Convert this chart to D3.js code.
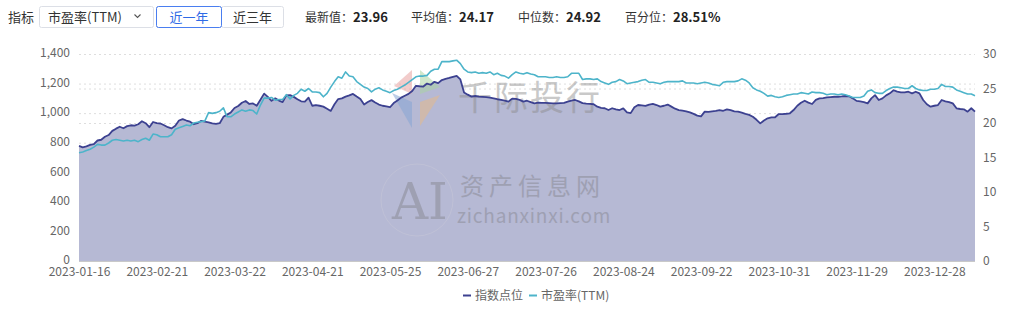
<!DOCTYPE html>
<html><head><meta charset="utf-8">
<script src="https://cdn.jsdelivr.net/npm/d3@7"></script>
<style>
body{margin:0;background:#fff;}
svg{display:block;font-family:"Noto Sans CJK SC","Noto Sans",sans-serif;}
</style></head><body>
<svg id="c" width="1024" height="312"></svg>
<script>
// ---- data ----
const indexValues = [
778,769,775,785,791,815,820,840,852,880,
895,908,898,912,918,916,925,945,932,905,
940,932,930,918,905,897,915,950,960,950,
942,925,932,948,942,938,931,928,932,975,
990,1005,1035,1048,1070,1082,1062,1066,1050,1090,
1132,1110,1083,1100,1085,1075,1120,1122,1110,1094,
1080,1078,1105,1050,1055,1050,1044,1030,1015,1060,
1095,1100,1112,1120,1130,1112,1095,1058,1075,1088,
1072,1058,1050,1046,1040,1068,1085,1105,1118,1130,
1150,1185,1182,1180,1200,1192,1212,1203,1224,1232,
1238,1246,1252,1228,1140,1125,1112,1116,1112,1110,
1108,1105,1100,1094,1090,1085,1078,1098,1096,1090,
1078,1084,1075,1066,1071,1070,1070,1068,1066,1066,
1068,1070,1078,1085,1089,1080,1068,1064,1062,1060,
1044,1035,1033,1021,1033,1025,1021,1032,1005,1000,
1040,1055,1052,1049,1058,1062,1055,1044,1050,1058,
1044,1030,1021,1017,1012,1005,995,983,978,1010,
1008,1012,1015,1021,1016,1026,1020,1012,1010,1003,
995,988,976,955,931,950,965,972,972,994,
994,996,999,1021,1050,1070,1084,1071,1062,1090,
1100,1102,1107,1109,1111,1111,1113,1116,1114,1100,
1083,1080,1075,1066,1100,1122,1089,1100,1120,1134,
1155,1145,1141,1140,1145,1134,1145,1134,1089,1060,
1044,1050,1055,1089,1080,1075,1066,1033,1028,1026,
1010,1033,1010
];
const peValues = [
15.7,15.8,16.0,16.2,16.5,16.9,16.8,16.8,17.1,17.5,
17.6,17.5,17.4,17.5,17.4,17.5,17.3,17.6,17.8,17.5,
18.4,18.3,18.0,18.0,18.0,18.3,19.1,19.3,19.5,19.7,
19.6,20.0,20.1,20.2,20.3,21.5,21.4,21.5,21.7,22.2,
20.9,20.9,21.3,21.6,21.9,21.7,21.9,21.8,21.3,22.6,
23.6,23.6,23.7,23.3,23.4,23.4,24.1,23.5,24.0,24.3,
24.9,24.6,25.0,24.5,24.5,24.4,23.8,24.3,25.2,26.0,
26.7,26.5,27.4,26.8,26.7,26.0,25.6,25.2,25.0,24.5,
24.9,25.1,24.8,24.6,24.4,24.7,24.9,25.2,25.5,25.9,
26.3,26.7,26.8,26.8,26.9,27.5,27.8,27.8,28.9,28.9,
28.9,29.0,29.1,28.6,27.8,27.4,27.3,27.4,27.2,27.3,
27.2,27.4,27.0,27.2,26.9,26.8,26.5,27.0,27.4,27.2,
27.1,27.3,27.1,27.0,26.7,26.7,26.7,26.6,26.6,26.7,
26.6,26.6,26.7,27.2,27.2,27.2,26.3,26.4,26.4,26.3,
26.4,26.0,25.8,25.6,25.9,26.0,26.3,26.1,25.7,25.8,
25.9,26.0,26.2,26.3,25.9,25.9,25.8,25.7,25.9,26.0,
26.0,26.0,26.0,26.1,25.8,25.8,25.8,25.7,25.8,25.9,
25.8,25.6,25.5,25.4,25.9,26.0,26.0,26.0,26.1,26.4,
26.2,25.8,25.1,24.8,24.6,24.3,23.9,24.0,23.8,23.7,
23.8,24.0,24.1,24.2,24.2,24.4,24.3,24.2,24.5,24.4,
24.4,24.3,24.1,24.2,24.2,24.1,24.2,24.1,23.9,23.7,
23.7,23.7,23.9,24.6,24.8,24.4,24.3,24.3,24.7,25.0,
25.2,25.2,25.1,25.0,25.0,25.4,25.0,24.8,24.7,24.7,
24.9,24.9,25.0,25.6,25.3,25.3,25.2,24.8,24.6,24.4,
24.2,24.2,23.96
];
const leftTicks = [0,200,400,600,800,1000,1200,1400];
const rightTicks = [0,5,10,15,20,25,30];
const marketHolidays = ["2023-01-23","2023-01-24","2023-01-25","2023-01-26","2023-01-27",
  "2023-04-05","2023-05-01","2023-05-02","2023-05-03","2023-06-22","2023-06-23",
  "2023-09-29","2023-10-02","2023-10-03","2023-10-04","2023-10-05","2023-10-06","2024-01-01"];
const statLabels = ["最新值：","平均值：","中位数：","百分位："];
const statValues = ["23.96","24.17","24.92","28.51%"];
const seriesNames = ["指数点位","市盈率(TTM)"];
const rangeButtons = ["近一年","近三年"];

function tradingDays(start, end, hol){
  const out=[]; const h=new Set(hol);
  let d=new Date(start+"T00:00:00Z"); const e=new Date(end+"T00:00:00Z");
  while(d<=e){
    const s=d.toISOString().slice(0,10); const wd=d.getUTCDay();
    if(wd!==0 && wd!==6 && !h.has(s)) out.push(s);
    d=new Date(d.getTime()+86400000);
  }
  return out;
}
const dates = tradingDays("2023-01-16","2024-01-15",marketHolidays);

// ---- chart ----
const svg = d3.select("#c");
const X0=79, X1=975, YB=261, YT=54;
const x = d3.scalePoint().domain(dates).range([X0,X1]);
const yL = d3.scaleLinear().domain([0,1400]).range([YB,YT]);
const yR = d3.scaleLinear().domain([0,30]).range([YB,YT]);
const darkC="#3c4190", fillC="#b6b9d4", cyanC="#4db4ca";

// gridlines
const gL = svg.append("g").attr("transform",`translate(${X0},0)`)
  .call(d3.axisLeft(yL).tickValues(leftTicks.slice(1)).tickSize(-(X1-X0)).tickFormat(""));
const gR = svg.append("g").attr("transform",`translate(${X0},0)`)
  .call(d3.axisLeft(yR).tickValues(rightTicks.slice(1)).tickSize(-(X1-X0)).tickFormat(""));
[gL,gR].forEach(g=>{g.select(".domain").remove();
  g.selectAll("line").attr("stroke","#dedede").attr("stroke-dasharray","2,3");});

// area + lines
const pts = dates.map((d,i)=>({d, v:indexValues[i], p:peValues[i]}));
svg.append("path").datum(pts)
  .attr("d", d3.area().x(o=>x(o.d)).y0(yL(0)).y1(o=>yL(o.v)))
  .attr("fill",fillC);

// watermark
const wm = svg.append("g");
const cx=416, cy=99;
const petals = [
  {c:"#e8a3a0", pts:[[cx-4,cy-5],[cx-22,cy-13],[cx-4,cy-29]]},
  {c:"#a9d3a3", pts:[[cx+4,cy-5],[cx+4,cy-29],[cx+24,cy-12]]},
  {c:"#86a6d4", pts:[[cx-4,cy+3],[cx-24,cy-6],[cx-4,cy+29]]},
  {c:"#e3b98a", pts:[[cx+4,cy+3],[cx+24,cy-4],[cx+4,cy+27]]}
];
petals.forEach(p=>wm.append("polygon").attr("points",p.pts.map(q=>q.join(",")).join(" "))
  .attr("fill",p.c).attr("opacity",0.55));
wm.append("text").attr("x",458).attr("y",110).attr("font-size",34).attr("fill","#8a8a8a")
  .attr("opacity",0.45).attr("letter-spacing",2).text("千际投行");
wm.append("circle").attr("cx",417).attr("cy",200).attr("r",36).attr("fill","none")
  .attr("stroke","#c8c8d8").attr("opacity",0.5);
wm.append("text").attr("x",392).attr("y",219).attr("font-size",50)
  .attr("font-family","'DejaVu Serif','Liberation Serif',serif").attr("fill","#8c8c98")
  .attr("opacity",0.55).text("AI");
wm.append("text").attr("x",460).attr("y",195).attr("font-size",24).attr("fill","#8c8c98")
  .attr("opacity",0.55).attr("letter-spacing",5).text("资产信息网");
wm.append("text").attr("x",457).attr("y",223).attr("font-size",19).attr("fill","#8c8c98")
  .attr("opacity",0.55).attr("letter-spacing",0.8).text("zichanxinxi.com");

svg.append("path").datum(pts)
  .attr("d", d3.line().x(o=>x(o.d)).y(o=>yL(o.v)))
  .attr("fill","none").attr("stroke",darkC).attr("stroke-width",1.8).attr("stroke-linejoin","round");
svg.append("path").datum(pts)
  .attr("d", d3.line().x(o=>x(o.d)).y(o=>yR(o.p)))
  .attr("fill","none").attr("stroke",cyanC).attr("stroke-width",1.6).attr("stroke-linejoin","round");

// axes
const axL = svg.append("g").attr("transform",`translate(${X0-9},-1)`)
  .call(d3.axisLeft(yL).tickValues(leftTicks).tickSize(0).tickPadding(0).tickFormat(d3.format(",")));
const axR = svg.append("g").attr("transform",`translate(${X1+8},0)`)
  .call(d3.axisRight(yR).tickValues(rightTicks).tickSize(0).tickPadding(0));
const axX = svg.append("g").attr("transform",`translate(0,${YB})`)
  .call(d3.axisBottom(x).tickValues(dates.filter((d,i)=>i%21===0)).tickSize(0).tickPadding(6));
[axL,axR,axX].forEach(g=>{g.selectAll("text").attr("font-size",12).attr("fill","#666")
  .attr("font-family","'Noto Sans CJK SC','Noto Sans',sans-serif");});
axL.select(".domain").remove(); axR.select(".domain").remove();
axX.select(".domain").attr("stroke","#c9c9c9").attr("d",`M${X0},0.5H${X1}`);

// legend
const lg = svg.append("g").attr("font-size",12).attr("fill","#666");
const legendItems=[{x:463,c:darkC,t:seriesNames[0]},{x:529,c:cyanC,t:seriesNames[1]}];
legendItems.forEach(o=>{
  lg.append("line").attr("x1",o.x).attr("x2",o.x+8).attr("y1",295.5).attr("y2",295.5)
    .attr("stroke",o.c).attr("stroke-width",2);
  lg.append("text").attr("x",o.x+12).attr("y",300).attr("fill","#666").text(o.t);
});

// header controls
const hd = svg.append("g").attr("font-size",13).attr("fill","#333");
hd.append("text").attr("x",8).attr("y",22).text("指标");
hd.append("rect").attr("x",39.5).attr("y",6.5).attr("width",114).attr("height",21)
  .attr("fill","#fff").attr("stroke","#dcdfe6").attr("rx",2);
hd.append("text").attr("x",48).attr("y",22).text("市盈率(TTM)");
hd.append("path").attr("d","M134.5,14.5L137.5,17.5L140.5,14.5").attr("fill","none")
  .attr("stroke","#555").attr("stroke-width",1.1);
hd.append("rect").attr("x",156.5).attr("y",6.5).attr("width",65).attr("height",21)
  .attr("fill","#fff").attr("stroke","#dcdfe6").attr("rx",2);
hd.append("rect").attr("x",221.5).attr("y",6.5).attr("width",62).attr("height",21)
  .attr("fill","#fff").attr("stroke","#dcdfe6").attr("rx",2);
hd.append("rect").attr("x",156.5).attr("y",6.5).attr("width",65).attr("height",21)
  .attr("fill","none").attr("stroke","#4a7ef0").attr("rx",2);
hd.append("text").attr("x",189).attr("y",22).attr("text-anchor","middle").attr("fill","#2f6ae6").text(rangeButtons[0]);
hd.append("text").attr("x",252.5).attr("y",22).attr("text-anchor","middle").text(rangeButtons[1]);
const statX=[305,411,518,625];
statLabels.forEach((s,i)=>{
  const t = hd.append("text").attr("x",statX[i]).attr("y",22);
  t.append("tspan").attr("font-size",12).text(s);
  t.append("tspan").attr("font-weight","bold").attr("fill","#222").text(statValues[i]);
});
</script>
</body></html>
